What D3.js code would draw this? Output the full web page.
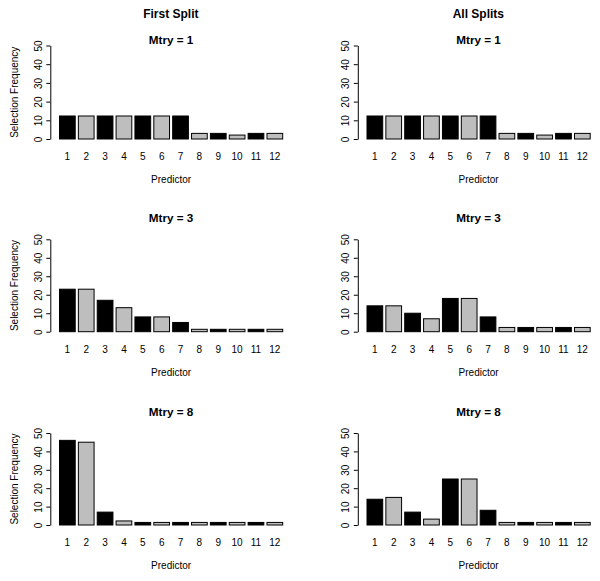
<!DOCTYPE html>
<html>
<head>
<meta charset="utf-8">
<script src="https://cdn.jsdelivr.net/npm/d3@7"></script>
<style>
  body { margin: 0; background: #fff; }
  svg { display: block; font-family: "Liberation Sans", Arial, sans-serif; }
</style>
</head>
<body>
<div id="chart"></div>
<script>
const predictors = ["1", "2", "3", "4", "5", "6", "7", "8", "9", "10", "11", "12"];
const yTicks = [0, 10, 20, 30, 40, 50];
const columnTitles = ["First Split", "All Splits"];
const mtryTitles = ["Mtry = 1", "Mtry = 3", "Mtry = 8"];

// selection frequency per predictor
const firstSplitMtry1 = [12.3, 12.3, 12.3, 12.3, 12.3, 12.3, 12.3, 3, 3, 2.1, 3, 3];
const firstSplitMtry3 = [23, 23, 17, 13, 8, 8, 5, 1.3, 1.3, 1.3, 1.3, 1.3];
const firstSplitMtry8 = [46, 45, 7, 2.2, 1.4, 1.4, 1.4, 1.4, 1.4, 1.4, 1.4, 1.4];
const allSplitsMtry1 = [12.3, 12.3, 12.3, 12.3, 12.3, 12.3, 12.3, 3, 3, 2.1, 3, 3];
const allSplitsMtry3 = [14, 14, 10, 7, 18, 18, 8, 2.3, 2.3, 2.3, 2.3, 2.3];
const allSplitsMtry8 = [14, 15, 7, 3.2, 25, 25, 8, 1.4, 1.4, 1.4, 1.4, 1.4];

const panels = [
  [firstSplitMtry1, allSplitsMtry1],
  [firstSplitMtry3, allSplitsMtry3],
  [firstSplitMtry8, allSplitsMtry8]
];

const W = 600, H = 581;
const colOffset = 307.5;
// layout of each row: zero line, top tick, panel title baseline
const rows = [
  { zero: 139, top: 45.5, title: 44 },
  { zero: 331.7, top: 239.3, title: 222 },
  { zero: 525, top: 433, title: 416 }
];

const svg = d3.select("#chart")
  .append("svg")
  .attr("width", W)
  .attr("height", H);

svg.append("rect").attr("width", W).attr("height", H).attr("fill", "#fff");

// column headings
columnTitles.forEach((t, c) => {
  svg.append("text")
    .attr("x", 170.8 + c * colOffset)
    .attr("y", 17.5)
    .attr("text-anchor", "middle")
    .attr("font-size", 12)
    .attr("font-weight", "bold")
    .text(t);
});

function drawPanel(row, col, values) {
  const off = col * colOffset;
  const r = rows[row];

  const x = d3.scaleBand()
    .domain(predictors)
    .range([59.5 + off, 282.7 + off])
    .paddingInner(1 / 6)
    .paddingOuter(0);

  const y = d3.scaleLinear()
    .domain([0, 50])
    .range([r.zero, r.top]);

  const g = svg.append("g");

  // bars
  g.selectAll("rect.bar")
    .data(values)
    .enter()
    .append("rect")
    .attr("class", "bar")
    .attr("x", (d, i) => x(predictors[i]))
    .attr("y", (d) => y(d))
    .attr("width", x.bandwidth())
    .attr("height", (d) => y(0) - y(d))
    .attr("fill", (d, i) => (i % 2 === 0 ? "#000" : "#bebebe"))
    .attr("stroke", "#000")
    .attr("stroke-width", 1);

  // y axis
  const ya = g.append("g")
    .attr("transform", "translate(" + (50.3 + off) + ",0)")
    .call(d3.axisLeft(y).tickValues(yTicks).tickSize(4).tickSizeOuter(0));
  ya.attr("font-family", null).attr("font-size", 10);
  ya.selectAll("text")
    .attr("x", null)
    .attr("dy", null)
    .attr("fill", "#000")
    .attr("text-anchor", "middle")
    .attr("transform", "translate(-8.8,0) rotate(-90)");

  // predictor labels
  const xa = g.append("g")
    .attr("transform", "translate(0," + r.zero + ")")
    .call(d3.axisBottom(x).tickSize(0).tickPadding(14));
  xa.attr("font-family", null).attr("font-size", 10);
  xa.select(".domain").remove();
  xa.selectAll("text").attr("fill", "#000");

  // axis title
  g.append("text")
    .attr("x", (59.5 + 282.7) / 2 + off)
    .attr("y", r.zero + 44)
    .attr("text-anchor", "middle")
    .attr("font-size", 10)
    .text("Predictor");

  if (col === 0) {
    g.append("text")
      .attr("transform", "translate(17.5," + y(25) + ") rotate(-90)")
      .attr("text-anchor", "middle")
      .attr("font-size", 10)
      .text("Selection Frequency");
  }

  // panel title
  g.append("text")
    .attr("x", (59.5 + 282.7) / 2 + off)
    .attr("y", r.title)
    .attr("text-anchor", "middle")
    .attr("font-size", 11.7)
    .attr("font-weight", "bold")
    .text(mtryTitles[row]);
}

panels.forEach((pair, row) => {
  pair.forEach((vals, col) => drawPanel(row, col, vals));
});
</script>
</body>
</html>
